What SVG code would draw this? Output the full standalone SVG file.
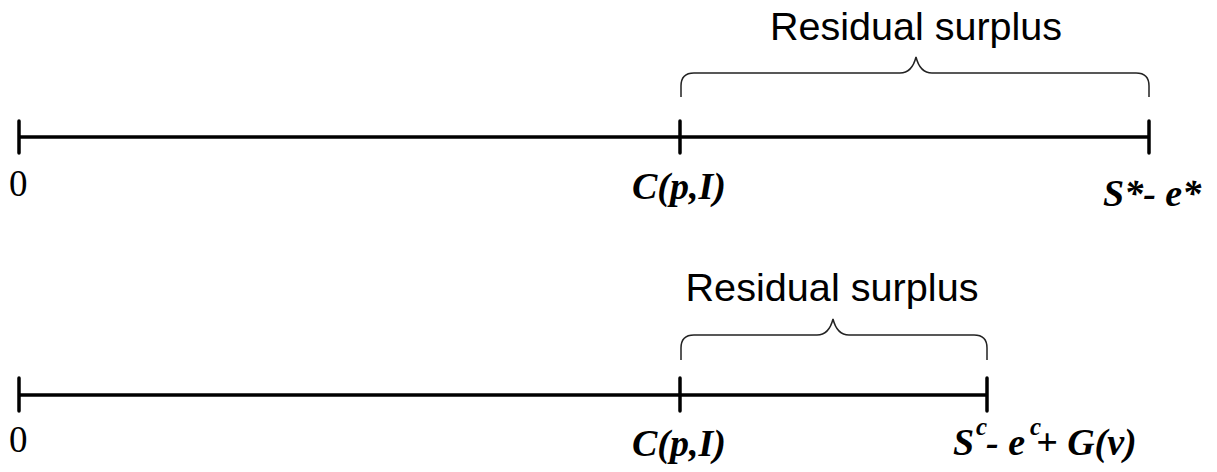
<svg xmlns="http://www.w3.org/2000/svg" width="1217" height="472" viewBox="0 0 1217 472">
<style>
.axis{stroke:#000;stroke-width:3.5;fill:none}
.tick{stroke:#000;stroke-width:3.5;fill:none;stroke-linecap:round}
.brace{stroke:#222;stroke-width:1.5;fill:none}
.lbl{font-family:"Liberation Sans",Arial,sans-serif;font-size:39.5px;fill:#000}
.num{font-family:"Liberation Serif","Times New Roman",serif;font-size:37px;fill:#000}
.math{font-family:"Liberation Serif","Times New Roman",serif;font-size:38px;font-weight:bold;font-style:italic;fill:#000}
.sup{font-size:25px}
</style>
<rect width="1217" height="472" fill="#fff"/>
<g id="connectors">
<line class="axis" x1="19" y1="137" x2="1149" y2="137"/>
<line class="axis" x1="19" y1="395" x2="987" y2="395"/>
<path class="brace" d="M681,97 V86 Q681,73 694,73 H900 Q912,73 916,57 Q920,73 932,73 H1136 Q1149,73 1149,86 V97"/>
<path class="brace" d="M681,360 V348 Q681,335 694,335 H817 Q829,335 833,319 Q837,335 849,335 H974 Q987,335 987,348 V360"/>
</g>
<g id="top-zero"><line class="tick" x1="19" y1="121" x2="19" y2="153"/><text class="num" x="9" y="196">0</text></g>
<g id="top-cost"><line class="tick" x1="680" y1="121" x2="680" y2="153"/><text class="math" x="632" y="199">C(p,I)</text></g>
<g id="top-surplus"><line class="tick" x1="1149" y1="121" x2="1149" y2="153"/><text class="math" x="1103" y="206">S*- e*</text></g>
<g id="top-label"><text class="lbl" x="916" y="40" text-anchor="middle" textLength="292" lengthAdjust="spacingAndGlyphs">Residual surplus</text></g>
<g id="bottom-zero"><line class="tick" x1="19" y1="378" x2="19" y2="411"/><text class="num" x="9" y="452">0</text></g>
<g id="bottom-cost"><line class="tick" x1="680" y1="378" x2="680" y2="411"/><text class="math" x="632" y="456">C(p,I)</text></g>
<g id="bottom-surplus"><line class="tick" x1="987" y1="378" x2="987" y2="411"/><text class="math" x="953" y="455">S<tspan class="sup" x="976" y="435">c</tspan><tspan x="986" y="455">- e</tspan><tspan class="sup" x="1030" y="435">c</tspan><tspan x="1036" y="455">+ G(v)</tspan></text></g>
<g id="bottom-label"><text class="lbl" x="832" y="301" text-anchor="middle" textLength="293" lengthAdjust="spacingAndGlyphs">Residual surplus</text></g>
</svg>
